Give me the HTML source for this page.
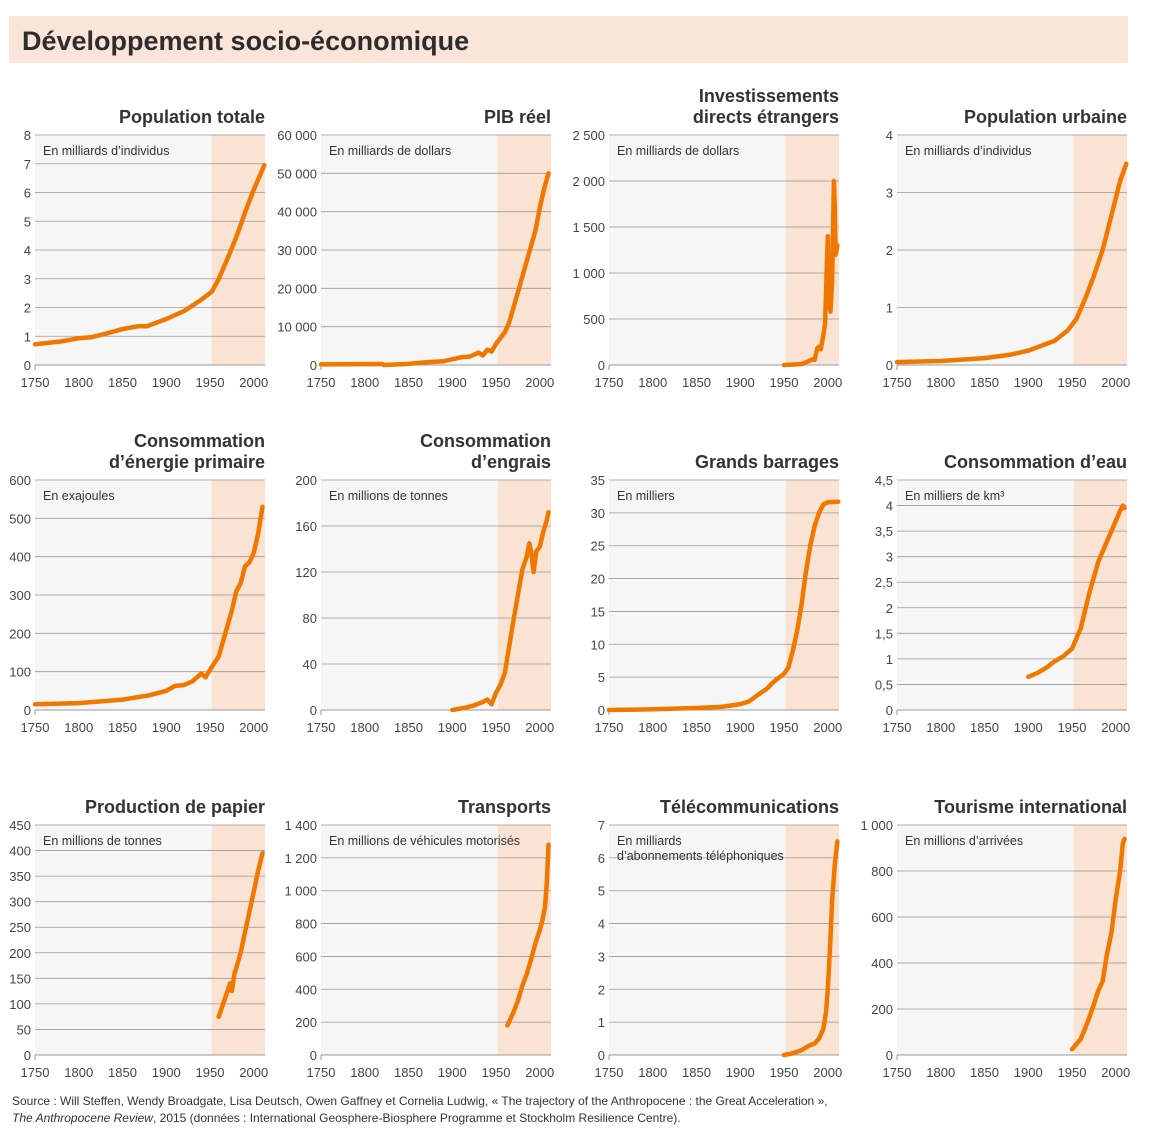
<!DOCTYPE html><html><head><meta charset="utf-8"><style>
body{margin:0;background:#fff;font-family:"Liberation Sans",sans-serif;}
</style></head><body>
<svg id="s" width="1172" height="1125" xmlns="http://www.w3.org/2000/svg" font-family="Liberation Sans, sans-serif">
<rect x="9" y="16" width="1119" height="47" fill="#fbe5d8"/>
<text x="22" y="50" font-size="27" font-weight="bold" fill="#2d2d2d">Développement socio-économique</text>
<text x="12" y="1105" font-size="12" fill="#333">Source : Will Steffen, Wendy Broadgate, Lisa Deutsch, Owen Gaffney et Cornelia Ludwig, « The trajectory of the Anthropocene : the Great Acceleration »,</text>
<text x="12" y="1122" font-size="12" fill="#333"><tspan font-style="italic">The Anthropocene Review</tspan>, 2015 (données : International Geosphere-Biosphere Programme et Stockholm Resilience Centre).</text>
</svg>
<script>
const s=document.getElementById('s');
const NS='http://www.w3.org/2000/svg';
function el(t,a,txt){const e=document.createElementNS(NS,t);for(const k in a)e.setAttribute(k,a[k]);if(txt!==undefined)e.textContent=txt;s.appendChild(e);return e;}
const cols=[35,321,609,897], rows=[[135,365],[480,710],[825,1055]];
const W=230, SC=0.875;
const charts=[
{t:["Population  totale"],u:["En milliards d’individus"],ymax:8,ticks:[0,1,2,3,4,5,6,7,8],d:[[1750,.72],[1780,.82],[1800,.93],[1815,.97],[1830,1.08],[1850,1.25],[1868,1.35],[1878,1.35],[1900,1.6],[1920,1.87],[1940,2.27],[1952,2.55],[1960,3.0],[1970,3.7],[1980,4.45],[1990,5.3],[2000,6.1],[2012,6.95]]},
{t:["PIB réel"],u:["En milliards de dollars"],ymax:60000,ticks:[0,10000,20000,30000,40000,50000,60000],d:[[1750,150],[1820,250],[1822,0],[1850,300],[1870,700],[1890,1000],[1900,1500],[1910,2000],[1920,2200],[1930,3200],[1935,2500],[1940,4000],[1945,3500],[1950,5500],[1960,8500],[1965,11000],[1970,15000],[1975,19000],[1980,23000],[1985,27000],[1990,31000],[1995,35000],[2000,41000],[2005,46000],[2010,50000]]},
{t:["Investissements","directs étrangers"],u:["En milliards de dollars"],ymax:2500,ticks:[0,500,1000,1500,2000,2500],d:[[1950,0],[1970,10],[1978,40],[1982,60],[1985,55],[1988,180],[1990,200],[1992,170],[1995,330],[1997,450],[1999,1100],[2000,1400],[2001,800],[2003,580],[2005,900],[2007,2000],[2008,1700],[2009,1200],[2011,1300]]},
{t:["Population urbaine"],u:["En milliards d’individus"],ymax:4,ticks:[0,1,2,3,4],d:[[1750,.05],[1800,.07],[1850,.12],[1880,.18],[1900,.25],[1930,.42],[1945,.6],[1955,.8],[1965,1.15],[1975,1.55],[1985,2.0],[1995,2.6],[2005,3.2],[2012,3.5]]},
{t:["Consommation","d’énergie primaire"],u:["En exajoules"],ymax:600,ticks:[0,100,200,300,400,500,600],d:[[1750,15],[1800,18],[1850,27],[1880,38],[1900,50],[1910,63],[1920,65],[1930,75],[1940,95],[1945,85],[1950,105],[1960,140],[1965,180],[1970,220],[1975,260],[1980,310],[1985,330],[1990,375],[1995,385],[2000,410],[2005,460],[2010,530]]},
{t:["Consommation","d’engrais"],u:["En millions de tonnes"],ymax:200,ticks:[0,40,80,120,160,200],d:[[1900,0],[1915,2],[1925,4],[1935,7],[1940,9],[1945,5],[1950,15],[1955,22],[1960,32],[1965,55],[1970,78],[1975,100],[1980,122],[1985,133],[1988,145],[1990,138],[1993,120],[1996,138],[2000,142],[2004,155],[2008,165],[2010,172]]},
{t:["Grands barrages"],u:["En milliers"],ymax:35,ticks:[0,5,10,15,20,25,30,35],d:[[1750,0],[1800,.1],[1850,.3],[1880,.5],[1900,.9],[1910,1.3],[1920,2.3],[1930,3.2],[1940,4.5],[1950,5.5],[1955,6.5],[1960,9],[1965,12],[1970,16],[1975,21],[1980,25],[1985,28],[1990,30],[1995,31.3],[2000,31.6],[2012,31.7]]},
{t:["Consommation d’eau"],u:["En milliers de km³"],ymax:4.5,ticks:[0,.5,1,1.5,2,2.5,3,3.5,4,4.5],lab:["0","0,5","1","1,5","2","2,5","3","3,5","4","4,5"],d:[[1900,.65],[1910,.72],[1920,.82],[1930,.95],[1940,1.05],[1950,1.2],[1955,1.4],[1960,1.6],[1965,1.95],[1970,2.3],[1975,2.6],[1980,2.9],[1985,3.1],[1990,3.3],[1995,3.5],[2000,3.7],[2005,3.9],[2008,4.0],[2010,3.95]]},
{t:["Production  de papier"],u:["En millions de tonnes"],ymax:450,ticks:[0,50,100,150,200,250,300,350,400,450],d:[[1960,75],[1965,100],[1970,125],[1973,140],[1975,125],[1978,160],[1980,170],[1985,200],[1990,240],[1995,280],[2000,320],[2005,360],[2010,395]]},
{t:["Transports"],u:["En millions de véhicules motorisés"],ymax:1400,ticks:[0,200,400,600,800,1000,1200,1400],lab:["0","200","400","600","800","1 000","1 200","1 400"],d:[[1963,180],[1970,260],[1975,330],[1980,420],[1985,490],[1990,580],[1995,680],[2000,760],[2003,820],[2006,900],[2008,1050],[2010,1280]]},
{t:["Télécommunications"],u:["En milliards","d’abonnements téléphoniques"],ymax:7,ticks:[0,1,2,3,4,5,6,7],d:[[1950,0],[1960,.05],[1970,.15],[1980,.3],[1985,.35],[1990,.5],[1995,.8],[1998,1.3],[2000,2],[2003,3.5],[2005,4.7],[2008,5.8],[2011,6.5]]},
{t:["Tourisme international"],u:["En millions d’arrivées"],ymax:1000,ticks:[0,200,400,600,800,1000],lab:["0","200","400","600","800","1 000"],d:[[1950,25],[1960,70],[1965,115],[1970,165],[1975,220],[1980,280],[1985,320],[1990,440],[1995,530],[2000,680],[2005,800],[2008,920],[2010,940]]}
];
function fmt(v){let s=String(v);if(v>=1000)s=s.replace(/\B(?=(\d{3})+(?!\d))/g,' ');return s;}
charts.forEach((c,i)=>{
 const L=cols[i%4], [T,B]=rows[Math.floor(i/4)], R=L+W;
 const X=y=>L+(y-1750)*SC, Y=v=>B-(v/c.ymax)*(B-T);
 el('rect',{x:L,y:T,width:W,height:B-T,fill:'#f6f6f6'});
 el('rect',{x:X(1952),y:T,width:R-X(1952),height:B-T,fill:'#fbe3d3'});
 c.ticks.forEach((v,k)=>{const y=Y(v);
  if(v>0)el('line',{x1:L,x2:R,y1:y,y2:y,stroke:'#999','stroke-width':0.8});
  el('text',{x:L-4,y:y+5,'font-size':13,fill:'#444','text-anchor':'end'},c.lab?c.lab[k]:fmt(v));});
 el('line',{x1:L,x2:R,y1:B,y2:B,stroke:'#999','stroke-width':1});
 el('line',{x1:L,x2:L,y1:B,y2:B+5,stroke:'#999','stroke-width':1});
 [1750,1800,1850,1900,1950,2000].forEach(y=>el('text',{x:X(y),y:B+22,'font-size':13,fill:'#444','text-anchor':'middle'},y));
 c.u.forEach((u,k)=>el('text',{x:L+8,y:T+20+k*15,'font-size':12.5,fill:'#333'},u));
 const n=c.t.length;
 c.t.forEach((t,k)=>el('text',{x:R,y:T-12-(n-1-k)*21,'font-size':18,'font-weight':'bold',fill:'#333','text-anchor':'end'},t));
 el('polyline',{points:c.d.map(p=>X(p[0]).toFixed(1)+','+Y(p[1]).toFixed(1)).join(' '),fill:'none',stroke:'#f07800','stroke-width':4.5,'stroke-linejoin':'round','stroke-linecap':'round'});
});
</script>
</body></html>
